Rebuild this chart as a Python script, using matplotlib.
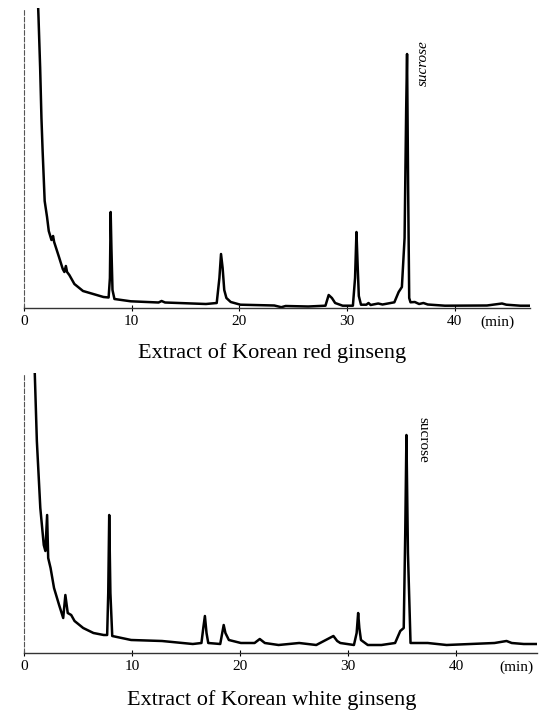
import numpy as np
import matplotlib.pyplot as plt

plt.rcParams['font.family'] = ['Liberation Serif', 'DejaVu Serif']

# retention time (min) and detector response (chart units)
red_t = [1.25, 1.35, 1.5, 1.62, 1.73, 1.92, 2.14, 2.30, 2.55, 2.70, 2.80, 3.25,
         3.60, 3.75, 3.89, 4.00, 4.21, 4.68, 5.48, 6.43, 7.38, 7.86, 7.98, 8.05,
         8.12, 8.22, 8.40, 9.92, 12.5, 12.78, 13.1, 16.9, 17.9, 18.15, 18.3, 18.45,
         18.6, 18.8, 19.2, 20.1, 23.25, 23.9, 24.3, 26.4, 28.0, 28.3, 28.6, 28.9,
         29.6, 30.55, 30.75, 30.88, 31.0, 31.1, 31.3, 31.8, 32.0, 32.2, 32.9, 33.3,
         34.4, 34.8, 35.1, 35.35, 35.5, 35.58, 35.68, 35.78, 35.9, 36.3, 36.7, 37.1,
         37.5, 39.1, 43.0, 44.4, 44.8, 46.1, 47.0]
red_y = [320, 290, 240, 190, 157, 107, 91, 77, 68, 72, 66, 51,
         39, 36, 42, 36, 33, 24, 17, 14, 11, 10.5, 30, 96,
         60, 18, 9, 6.7, 5.5, 7, 5.5, 4, 5, 30, 54, 40,
         18, 10, 6, 3.3, 2.5, 0.8, 2, 1.5, 2.3, 13, 10, 5,
         2.3, 2.3, 30, 76, 40, 12, 3.3, 3.3, 5, 3, 4.5, 3.5,
         5.7, 16, 21, 70, 200, 254, 120, 10, 5.7, 6, 4, 5,
         3.5, 2.3, 2.5, 4.5, 3.3, 2.3, 2.3]

white_t = [0.94, 1.19, 1.51, 1.83, 1.98, 2.14, 2.24, 2.46, 2.78, 3.25, 3.63, 3.83,
           4.05, 4.37, 4.68, 5.48, 6.43, 7.38, 7.70, 7.80, 7.89, 8.0, 8.17, 9.92,
           12.78, 15.63, 16.43, 16.6, 16.75, 16.9, 17.06, 18.17, 18.49, 18.65, 18.97, 20.08,
           21.35, 21.83, 22.3, 23.57, 25.48, 27.06, 28.65, 29.0, 29.29, 30.55, 30.8, 30.94,
           31.05, 31.2, 31.83, 33.1, 34.36, 34.84, 35.16, 35.3, 35.41, 35.55, 35.79, 37.38,
           39.13, 43.57, 44.68, 45.16, 46.27, 47.5]
white_y = [300, 212, 145, 108, 102, 138, 95, 85, 65, 48, 35, 58,
           40, 38, 32, 25, 20, 18, 18, 60, 138, 60, 17, 13,
           12, 9, 10, 25, 37, 20, 10, 9, 28, 20, 13, 10,
           10, 14, 10, 8, 10, 8, 17, 12, 10, 8, 20, 40,
           25, 13, 8, 8, 10, 22, 25, 120, 218, 100, 10, 10,
           8, 10, 12, 10, 9, 9]

tick_pos = [0, 10, 20, 30, 40]
tick_labels = ['0', '10', '20', '30', '40']

fig = plt.figure(figsize=(5.43, 7.12), dpi=100)
W, H = 543.0, 712.0


def panel(rect, t, y, xmax, ymax, caption, cap_y, min_x, sucrose_x, sucrose_y, rot, style):
    left, bottom, width, height = rect
    ax = fig.add_axes([left / W, (H - bottom) / H, width / W, height / H])
    ax.plot(t, y, color='black', lw=1.8, solid_joinstyle='round')
    ax.set_xlim(0, xmax)
    ax.set_ylim(0, ymax)
    for s in ['top', 'right']:
        ax.spines[s].set_visible(False)
    ax.spines['left'].set_linestyle((0, (4, 2)))
    ax.spines['left'].set_color('#555555')
    ax.spines['left'].set_linewidth(0.8)
    ax.spines['bottom'].set_color('#333333')
    ax.spines['bottom'].set_linewidth(1.0)
    ax.set_yticks([])
    ax.set_xticks(tick_pos)
    ax.set_xticklabels(tick_labels, fontsize=11)
    ax.tick_params(axis='x', direction='inout', length=4, width=0.8, pad=3)
    ax.text(min_x, -14.0 / height, '(min)', transform=ax.get_xaxis_transform(),
            ha='center', va='center', fontsize=11)
    ax.text(sucrose_x, sucrose_y, 'sucrose', rotation=rot, ha='center', va='center',
            fontsize=11, fontstyle=style)
    fig.text(272 / W, (H - cap_y) / H, caption, ha='center', va='center', fontsize=16)
    return ax


panel((24, 308, 506, 300), red_t, red_y, 47.0, 300,
      'Extract of Korean red ginseng', 353, 44.0, 37.1, 245, 90, 'italic')
panel((24, 653, 513, 280), white_t, white_y, 47.5, 280,
      'Extract of Korean white ginseng', 700, 45.6, 36.9, 213, -90, 'normal')

fig.savefig('out.png', dpi=100)
